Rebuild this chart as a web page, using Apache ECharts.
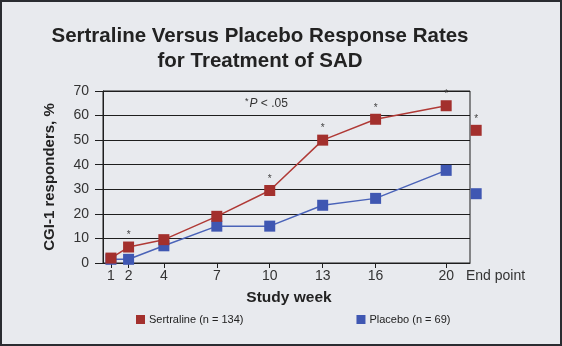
<!DOCTYPE html>
<html>
<head>
<meta charset="utf-8">
<script src="https://cdn.jsdelivr.net/npm/echarts@6/dist/echarts.min.js"></script>
<style>
html,body{margin:0;padding:0;background:#e8eaee;}
#c{width:562px;height:346px;}
</style>
</head>
<body>
<div id="c"></div>
<script>
var weeks = [1, 2, 4, 7, 10, 13, 16, 20];
var weekLabels = ['1', '2', '4', '7', '10', '13', '16', '20'];
var endPointX = 21.7;
var sertraline = [2, 6.5, 9.5, 19, 29.5, 50, 58.5, 64];
var placebo = [1.5, 1.5, 7, 15, 15, 23.5, 26.3, 37.7];
var sertralineEnd = 54;
var placeboEnd = 28.2;
var significant = [false, true, false, false, true, true, true, true];
var sertralineName = 'Sertraline (n = 134)';
var placeboName = 'Placebo (n = 69)';

var RED = '#a3302d';
var BLUE = '#3f57b2';

function pts(xs, ys, sig) {
  return xs.map(function (x, i) {
    var d = { value: [x, ys[i]] };
    if (sig && sig[i]) d.label = { show: true };
    return d;
  });
}

var chart = echarts.init(document.getElementById('c'), null, { renderer: 'canvas' });
var starLabel = { show: false, position: 'top', distance: 1, formatter: '*', color: '#444', fontSize: 10, fontFamily: 'Liberation Sans' };

chart.setOption({
  backgroundColor: '#e8eaee',
  animation: false,
  textStyle: { fontFamily: 'Liberation Sans' },
  title: {
    text: 'Sertraline Versus Placebo Response Rates\nfor Treatment of SAD',
    left: 255, top: 19, textAlign: 'center',
    textStyle: { fontSize: 20.5, fontWeight: 'bold', color: '#222', lineHeight: 25, fontFamily: 'Liberation Sans' }
  },
  legend: {
    data: [sertralineName, placeboName],
    left: 131, top: 309,
    itemWidth: 9, itemHeight: 9, itemGap: 113, icon: 'rect',
    textStyle: { fontSize: 11, color: '#222', padding: [0, 0, 0, -1] }
  },
  grid: {
    left: 103, right: 92, top: 91, bottom: 83,
    show: true, borderColor: '#1e1e1e', borderWidth: 1
  },
  xAxis: {
    type: 'value', min: 0.55, max: 21.35,
    name: 'Study week', nameLocation: 'middle', nameGap: 27,
    nameTextStyle: { fontSize: 15.5, fontWeight: 'bold', color: '#222', padding: [0, 0, 0, 5] },
    axisLine: { show: true, lineStyle: { color: '#1e1e1e', width: 1 } },
    axisTick: { show: true, length: 5, customValues: weeks, lineStyle: { color: '#1e1e1e' } },
    axisLabel: {
      customValues: weeks, margin: 6, fontSize: 14, color: '#333',
      formatter: function (v) { return weekLabels[weeks.indexOf(v)]; }
    },
    splitLine: { show: false }
  },
  yAxis: {
    type: 'value', min: 0, max: 70, interval: 10,
    name: 'CGI-1 responders, %', nameLocation: 'middle', nameGap: 46,
    nameTextStyle: { fontSize: 15, fontWeight: 'bold', color: '#222' },
    axisLine: { show: true, lineStyle: { color: '#1e1e1e', width: 1 } },
    axisTick: { show: true, length: 8, lineStyle: { color: '#1e1e1e' } },
    axisLabel: { margin: 14, fontSize: 14, color: '#333' },
    splitLine: { show: true, lineStyle: { color: '#1e1e1e', width: 1 } }
  },
  graphic: [
    { type: 'text', left: 466, top: 269, style: { text: 'End point', fontSize: 14, fill: '#333', fontFamily: 'Liberation Sans' } },
    { type: 'text', left: 245, top: 97, style: {
      text: '{a|*}{p|P}{t| < .05}', fontFamily: 'Liberation Sans',
      rich: {
        a: { fontSize: 9, fill: '#333', verticalAlign: 'top', padding: [0, 1, 4, 0] },
        p: { fontSize: 12, fill: '#333', fontStyle: 'italic' },
        t: { fontSize: 12, fill: '#333' }
      }
    } },
    { type: 'rect', shape: { x: 1, y: 1, width: 560, height: 344 }, style: { fill: 'none', stroke: '#2a2c31', lineWidth: 2 }, z: 100 }
  ],
  series: [
    {
      name: sertralineName, type: 'line', data: pts(weeks, sertraline, significant),
      symbol: 'rect', symbolSize: 11, z: 3,
      itemStyle: { color: RED }, lineStyle: { color: '#b03a36', width: 1.5 },
      label: starLabel
    },
    {
      name: placeboName, type: 'line', data: pts(weeks, placebo, null),
      symbol: 'rect', symbolSize: 11, z: 2,
      itemStyle: { color: BLUE }, lineStyle: { color: '#4a63b8', width: 1.5 }
    },
    {
      name: sertralineName, type: 'scatter', clip: false,
      data: [{ value: [endPointX, sertralineEnd], label: { show: true } }],
      symbol: 'rect', symbolSize: 11, itemStyle: { color: RED, opacity: 1 }, label: starLabel
    },
    {
      name: placeboName, type: 'scatter', clip: false,
      data: [[endPointX, placeboEnd]],
      symbol: 'rect', symbolSize: 11, itemStyle: { color: BLUE, opacity: 1 }
    }
  ]
});
</script>
</body>
</html>
